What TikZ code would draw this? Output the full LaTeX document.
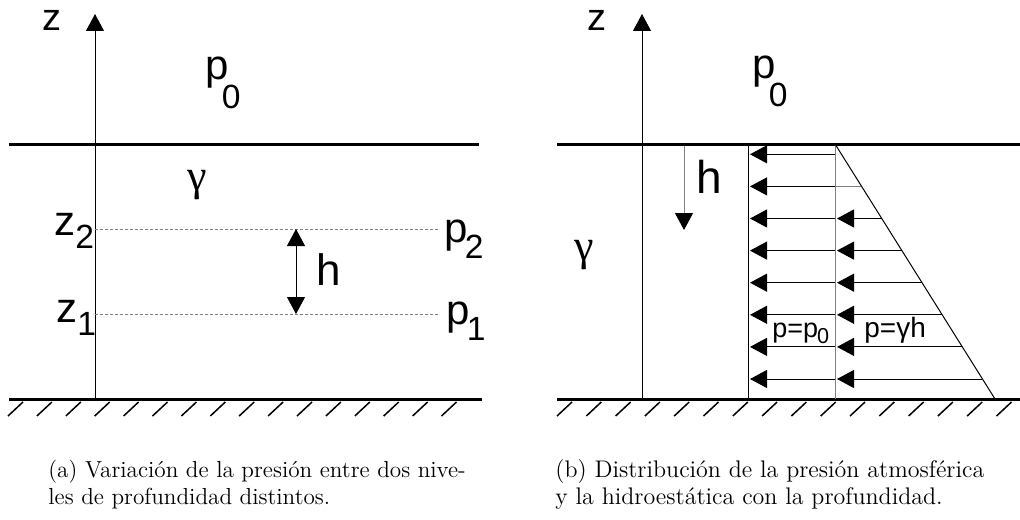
\documentclass[tikz,border=0pt]{standalone}
\usepackage{fontspec}
\newfontfamily\labfont{Liberation Sans}
\newfontfamily\grkfont{Liberation Serif}
\usetikzlibrary{arrows.meta}

\tikzset{
  fluid/.style={line width=1.5pt},
  fine/.style={line width=0.5pt},
  level/.style={line width=0.5pt,gray,dash pattern=on 1.5pt off 1pt},
  hatch/.style={line width=0.75pt},
  tri/.style={-{Triangle[length=8.5pt,width=9pt]}},
  lab/.style={inner sep=0pt,anchor=base west,font=\labfont},
  capt/.style={inner sep=0pt,anchor=base west,font=\fontsize{11.6}{14}\selectfont}
}
% base, index, kern, drop
\newcommand{\sbs}[4]{#1\kern#3\raisebox{#4}{\scalebox{0.8}{#2}}}

\begin{document}
\begin{tikzpicture}[x=0.5pt,y=0.5pt,yscale=-1]
\useasboundingbox (0,0) rectangle (1020,519);
\clip (0,0) rectangle (1020,519);

%% ---------- (a) ----------
% surface and bottom
\draw[fluid] (9,144) -- (479,144);
\draw[fluid] (9,399) -- (482,399);
\foreach \x in {8,36.9,...,470}
  \draw[hatch] (\x,416) -- (\x+15,402);
% z axis
\coordinate (axa0) at (95,399);
\coordinate (axa1) at (95,14);
\draw[fine,tri] (axa0) -- (axa1);
% levels
\draw[level] (95,229) -- (438,229);
\draw[level] (95,314) -- (438,314);
\coordinate (ha2) at (296,229);
\coordinate (ha1) at (296,314);
\draw[fine,{Triangle[length=8.5pt,width=9pt]}-{Triangle[length=8.5pt,width=9pt]}] (ha2) -- (ha1);

% Text Node
\node[lab,font=\labfont\fontsize{19}{22}\selectfont] (za) at (42,31) {z};
% Text Node
\node[lab,font=\labfont\fontsize{21}{24}\selectfont] (p0a) at (205,80) {\sbs{p}{0}{-3.5pt}{-14pt}};
% Text Node
\node[inner sep=0pt,font=\grkfont\fontsize{22}{26}\selectfont] (ga) at (197,185) {γ};
% Text Node
\node[lab,font=\labfont\fontsize{21}{24}\selectfont] (z2) at (54,235) {\sbs{z}{2}{0pt}{-6.5pt}};
% Text Node
\node[lab,font=\labfont\fontsize{21}{24}\selectfont] (z1) at (56,322) {\sbs{z}{1}{0pt}{-6.5pt}};
% Text Node
\node[lab,font=\labfont\fontsize{21}{24}\selectfont] (p2) at (444,242) {\sbs{p}{2}{-1.5pt}{-8pt}};
% Text Node
\node[lab,font=\labfont\fontsize{21}{24}\selectfont] (p1) at (446,324) {\sbs{p}{1}{-1.5pt}{-8pt}};
% Text Node
\node[lab,font=\labfont\fontsize{22}{26}\selectfont] (ha) at (316,285) {h};

%% ---------- (b) ----------
\draw[fluid] (557,144) -- (1020,144);
\draw[fluid] (557,399) -- (1020,399);
\foreach \x in {557,586.3,...,1020}
  \draw[hatch] (\x,416) -- (\x+15,402);
% z axis
\coordinate (axb0) at (642,399);
\coordinate (axb1) at (642,14);
\draw[fine,tri] (axb0) -- (axb1);
% pressure diagram
\coordinate (atm0) at (748,144);
\coordinate (atm1) at (748,399);
\coordinate (hyd0) at (835,144);
\coordinate (hyd1) at (835,399);
\coordinate (hyd2) at (995,399);
\draw[fine] (atm0) -- (atm1);
\draw[fine,gray] (hyd0) -- (hyd1);
\draw[fine] (hyd0) -- (hyd2);
\foreach \i in {0,...,7}{
  \pgfmathsetmacro\yy{154.3+32.1*\i}
  \draw[fine,tri] (835,\yy) -- (750,\yy);
}
\draw[fine,gray] (835,186.4) -- (861.2,186.4);
\foreach \i in {2,...,7}{
  \pgfmathsetmacro\yy{154.3+32.1*\i}
  \pgfmathsetmacro\xx{835+(\yy-144)*0.6275}
  \draw[fine,tri] (\xx,\yy) -- (837,\yy);
}
% depth arrow
\coordinate (hb0) at (684,146);
\coordinate (hb1) at (684,230);
\draw[fine,gray,-{Triangle[length=8.5pt,width=9pt,black]}] (hb0) -- (hb1);

% Text Node
\node[lab,font=\labfont\fontsize{19}{22}\selectfont] (zb) at (587,31) {z};
% Text Node
\node[lab,font=\labfont\fontsize{21}{24}\selectfont] (p0b) at (752,78) {\sbs{p}{0}{-3.5pt}{-14pt}};
% Text Node
\node[inner sep=0pt,font=\grkfont\fontsize{22}{26}\selectfont] (gb) at (584,255) {γ};
% Text Node
\node[lab,font=\labfont\fontsize{23}{26}\selectfont] (hb) at (696,193) {h};
% Text Node
\node[lab,font=\labfont\fontsize{13.5}{16}\selectfont] (patm) at (772,337) {p=\sbs{p}{0}{-0.5pt}{-3pt}};
% Text Node
\node[lab,font=\labfont\fontsize{14}{16}\selectfont] (phyd) at (864,337) {p=γh};

%% ---------- captions ----------
\node[capt] (capa1) at (48,477) {(a) Variación de la presión entre dos nive-};
\node[capt] (capa2) at (48,504) {les de profundidad distintos.};
\node[capt,font=\fontsize{12}{14}\selectfont] (capb1) at (555,477) {(b) Distribución de la presión atmosférica};
\node[capt,font=\fontsize{12}{14}\selectfont] (capb2) at (555,504) {y la hidroestática con la profundidad.};
\end{tikzpicture}
\end{document}
